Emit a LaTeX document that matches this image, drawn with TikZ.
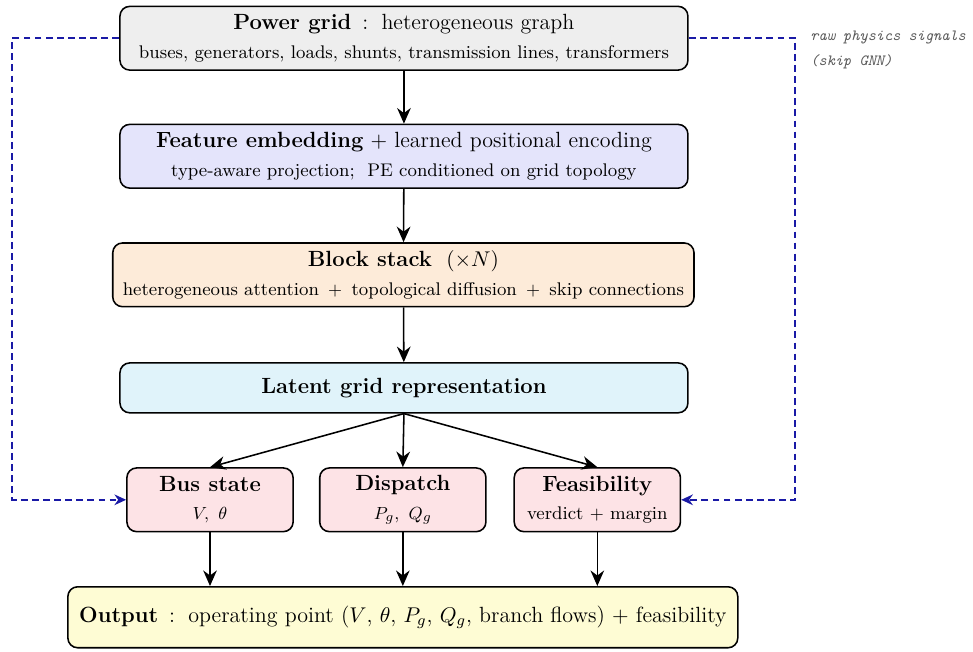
\documentclass[tikz,border=0pt]{standalone}
\usepackage{amsmath}
\usetikzlibrary{arrows.meta}
\definecolor{gridgray}{HTML}{EEEEEE}
\definecolor{embedblue}{HTML}{E4E4FB}
\definecolor{stackpeach}{HTML}{FDEBD9}
\definecolor{latentblue}{HTML}{E0F3FA}
\definecolor{headpink}{HTML}{FDE3E6}
\definecolor{outyellow}{HTML}{FEFCD4}
\definecolor{skipblue}{HTML}{1A1AA6}
\newcommand{\titlesize}{\fontsize{11.3}{13.6}\selectfont}
\newcommand{\subsize}{\fontsize{9.4}{11.3}\selectfont}
\begin{document}
\begin{tikzpicture}[
    block/.style={draw, thick, rounded corners=5pt, align=center, minimum height=1.15cm,
                  font=\titlesize},
    head/.style={block, fill=headpink, minimum width=3.0cm},
    flow/.style={-{Stealth[length=8pt,width=7pt]}, thick},
    skip/.style={-{Stealth[length=6pt,width=5.5pt]}, dash pattern=on 3.5pt off 2.2pt,
                 skipblue, thick}
  ]
  \useasboundingbox (0,0) rectangle (17.56,-11.75);
  \node[block, fill=gridgray, minimum width=10.25cm] (grid) at (7.29,-0.69)
    {\textbf{Power grid} \,:\, heterogeneous graph\\[1pt]
     \subsize buses, generators, loads, shunts, transmission lines, transformers};
  \node[block, fill=embedblue, minimum width=10.25cm] (embed) at (7.29,-2.82)
    {\textbf{Feature embedding} $+$ learned positional encoding\\[1pt]
     \subsize type-aware projection;\ \ PE conditioned on grid topology};
  \node[block, fill=stackpeach, minimum width=10.49cm] (stack) at (7.28,-4.96)
    {\textbf{Block stack} \ $(\times N)$\\[1pt]
     \subsize heterogeneous attention $\,+\,$ topological diffusion $\,+\,$ skip connections};
  \node[block, fill=latentblue, minimum width=10.25cm, minimum height=0.9cm] (latent) at (7.29,-7.00)
    {\textbf{Latent grid representation}};
  \node[head] (bus) at (3.79,-9.02)
    {\textbf{Bus state}\\[1pt] \subsize $V,\ \theta$};
  \node[head] (dispatch) at (7.27,-9.02)
    {\textbf{Dispatch}\\[1pt] \subsize $P_g,\ Q_g$};
  \node[head] (feas) at (10.78,-9.02)
    {\textbf{Feasibility}\\[1pt] \subsize verdict $+$ margin};
  \node[block, fill=outyellow, minimum width=12.09cm, minimum height=1.1cm] (out) at (7.27,-11.14)
    {\textbf{Output} \,:\, operating point ($V$, $\theta$, $P_g$, $Q_g$, branch flows) $+$ feasibility};
  \coordinate (lefttop) at (0.22,-0.69);
  \coordinate (leftbot) at (0.22,-9.02);
  \coordinate (righttop) at (14.35,-0.69);
  \coordinate (rightbot) at (14.35,-9.02);
  \node[anchor=north west, align=left, text=black!65, font=\footnotesize\ttfamily\itshape,
        inner sep=0pt] (note) at (14.62,-0.55)
    {raw physics signals\\[3.5pt](skip GNN)};
  % main pipeline
  \draw[flow] (grid) -- (embed);
  \draw[flow] (embed) -- (stack);
  \draw[flow] (stack) -- (latent);
  \draw[flow] (latent.south) -- (bus.north);
  \draw[flow] (latent.south) -- (dispatch.north);
  \draw[flow] (latent.south) -- (feas.north);
  \draw[flow] (bus) -- (bus |- out.north);
  \draw[flow] (dispatch) -- (out);
  \draw[flow] (feas) -- (feas |- out.north);
  % physics skip
  \draw[skip] (grid.west) -- (lefttop) -- (leftbot) -- (bus.west);
  \draw[skip] (grid.east) -- (righttop) -- (rightbot) -- (feas.east);
\end{tikzpicture}
\end{document}
